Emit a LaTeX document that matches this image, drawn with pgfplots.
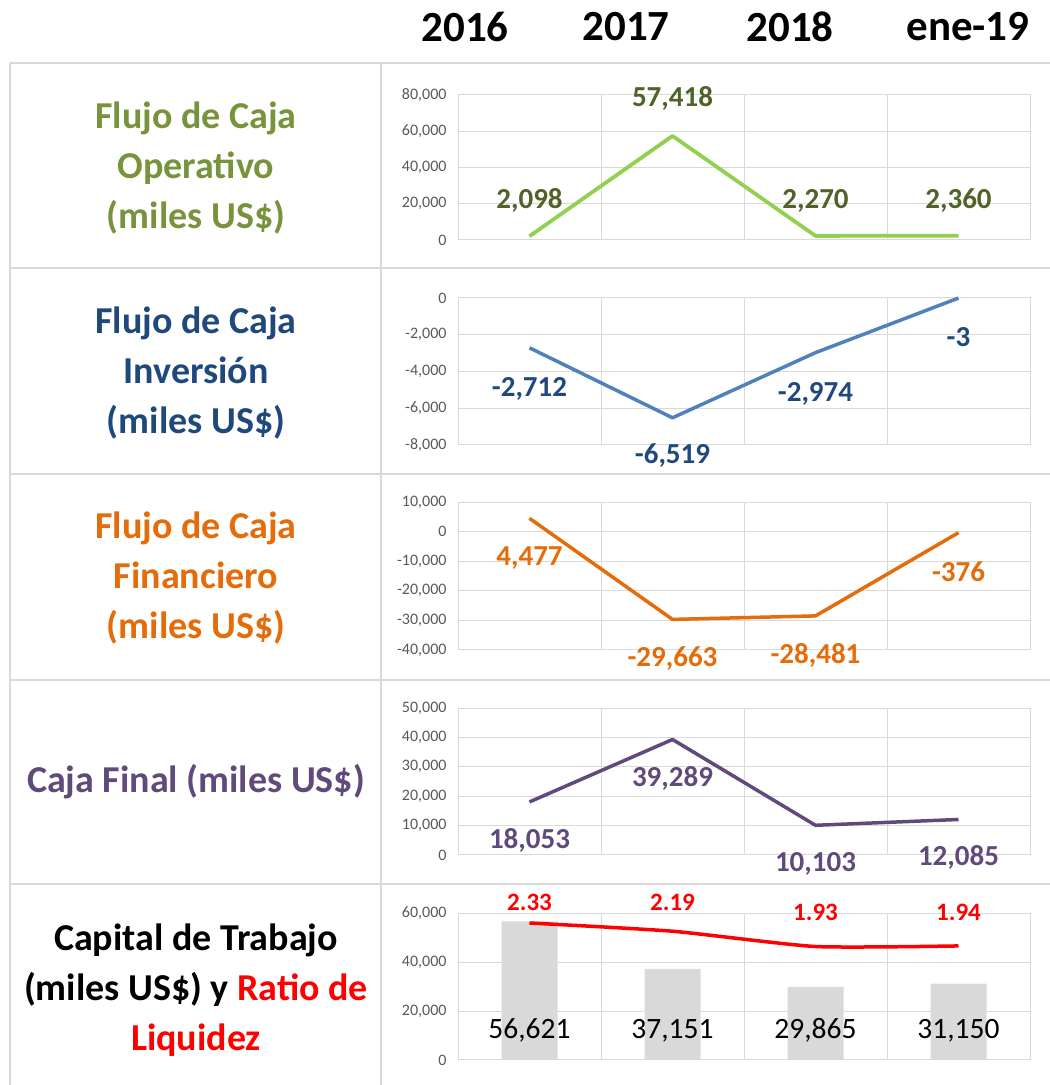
\documentclass[border=0pt]{standalone}
\usepackage{pgfplots}
\pgfplotsset{compat=1.18}
\usepackage{fontspec}
\setmainfont{Carlito}
\definecolor{gridc}{HTML}{D9D9D9}
\definecolor{tickc}{HTML}{595959}
\definecolor{gline}{HTML}{92D050}
\definecolor{glab}{HTML}{4F6228}
\definecolor{gtit}{HTML}{77933C}
\definecolor{bline}{HTML}{4F81BD}
\definecolor{blab}{HTML}{1F497D}
\definecolor{oline}{HTML}{E46C0A}
\definecolor{pline}{HTML}{604A7B}
\definecolor{barc}{HTML}{D9D9D9}
\newcommand\tf{\fontsize{38}{50}\selectfont\bfseries}
\pgfplotsset{
  cell/.style={
    scale only axis, width=572pt, anchor=south west,
    xmin=0.5, xmax=4.5, xtick={1.5,2.5,3.5}, xticklabels={},
    xmajorgrids, ymajorgrids,
    grid style={gridc, line width=1pt},
    axis line style={gridc, line width=1pt},
    major tick length=0pt,
    scaled y ticks=false,
    clip=false,
    yticklabel style={font=\fontsize{16}{16}\selectfont, text=tickc, xshift=-8pt},
    /pgf/number format/fixed,
    /pgf/number format/1000 sep={,},
    /pgf/number format/assume math mode=true,
  },
}
\tikzset{dl/.style={font=\fontsize{29}{29}\selectfont\bfseries, text height=0.65em, text depth=0.15em, yshift=-6pt},
  rl/.style={font=\fontsize{25}{25}\selectfont\bfseries, text=red, text height=0.65em, text depth=0.15em, yshift=-5pt},
  bl/.style={font=\fontsize{29.5}{29.5}\selectfont, text height=0.65em, text depth=0.15em, yshift=-6pt}}
\begin{document}
\begin{tikzpicture}[x=1pt,y=1pt]
\useasboundingbox (0pt,0pt) rectangle (1050pt,1085pt);
% table lines
\foreach \yy in {1022,817,611,405,201} {\draw[gridc, line width=2pt] (10pt,\yy pt) -- (1050pt,\yy pt);}
\draw[gridc, line width=2pt] (10pt,0pt) -- (10pt,1022pt);
\draw[gridc, line width=2pt] (381pt,0pt) -- (381pt,1022pt);
% headers
\node[font=\fontsize{43}{43}\selectfont\bfseries] at (465pt,1058pt) {2016};
\node[font=\fontsize{43}{43}\selectfont\bfseries] at (626pt,1058pt) {2017};
\node[font=\fontsize{43}{43}\selectfont\bfseries] at (790pt,1058pt) {2018};
\node[font=\fontsize{43}{43}\selectfont\bfseries] at (968pt,1058pt) {ene-19};
% titles
\node[align=center, text=gtit, font=\tf] at (196pt,917pt) {Flujo de Caja\\Operativo\\(miles US\$)};
\node[align=center, text=blab, font=\tf] at (196pt,712pt) {Flujo de Caja\\Inversión\\(miles US\$)};
\node[align=center, text=oline, font=\tf] at (196pt,507pt) {Flujo de Caja\\Financiero\\(miles US\$)};
\node[align=center, text=pline, font=\tf] at (196pt,303pt) {Caja Final (miles US\$)};
\node[align=center, font=\tf] at (196pt,95pt) {Capital de Trabajo\\(miles US\$) y \textcolor{red}{Ratio de}\\\textcolor{red}{Liquidez}};

% Chart 1
\begin{axis}[cell, at={(458pt,845pt)}, height=145pt, ymin=0, ymax=80000, ytick={0,20000,40000,60000,80000}]
\addplot[gline, line width=3.8pt, line join=round] coordinates {(1,2098)(2,57418)(3,2270)(4,2360)};
\node[dl, text=glab] at (axis cs:1,22069) {2,098};
\node[dl, text=glab] at (axis cs:2,78345) {57,418};
\node[dl, text=glab] at (axis cs:3,22069) {2,270};
\node[dl, text=glab] at (axis cs:4,22069) {2,360};
\end{axis}

% Chart 2
\begin{axis}[cell, at={(458pt,640pt)}, height=147pt, ymin=-8000, ymax=0, ytick={-8000,-6000,-4000,-2000,0}]
\addplot[bline, line width=3.5pt, line join=round] coordinates {(1,-2712)(2,-6519)(3,-2974)(4,-3)};
\node[dl, text=blab] at (axis cs:1,-4898) {-2,712};
\node[dl, text=blab] at (axis cs:2,-8544) {-6,519};
\node[dl, text=blab] at (axis cs:3,-5170) {-2,974};
\node[dl, text=blab] at (axis cs:4,-2177) {-3};
\end{axis}

% Chart 3
\begin{axis}[cell, at={(458pt,435pt)}, height=148pt, ymin=-40000, ymax=10000, ytick={-40000,-30000,-20000,-10000,0,10000}]
\addplot[oline, line width=3.5pt, line join=round] coordinates {(1,4477)(2,-29663)(3,-28481)(4,-376)};
\node[dl, text=oline] at (axis cs:1,-8581) {4,477};
\node[dl, text=oline] at (axis cs:2,-42703) {-29,663};
\node[dl, text=oline] at (axis cs:3,-41689) {-28,481};
\node[dl, text=oline] at (axis cs:4,-13986) {-376};
\end{axis}

% Chart 4
\begin{axis}[cell, at={(458pt,230pt)}, height=147pt, ymin=0, ymax=50000, ytick={0,10000,20000,30000,40000,50000}]
\addplot[pline, line width=3.5pt, line join=round] coordinates {(1,18053)(2,39289)(3,10103)(4,12085)};
\node[dl, text=pline] at (axis cs:1,5102) {18,053};
\node[dl, text=pline] at (axis cs:2,26190) {39,289};
\node[dl, text=pline] at (axis cs:3,-2721) {10,103};
\node[dl, text=pline] at (axis cs:4,-680) {12,085};
\end{axis}

% Chart 5
\begin{axis}[cell, at={(458pt,25pt)}, height=147pt, ymin=0, ymax=60000, ytick={0,20000,40000,60000}]
\addplot[ybar, bar width=56pt, fill=barc, draw=none] coordinates {(1,56621)(2,37151)(3,29865)(4,31150)};
\node[bl] at (axis cs:1,12245) {56,621};
\node[bl] at (axis cs:2,12245) {37,151};
\node[bl] at (axis cs:3,12245) {29,865};
\node[bl] at (axis cs:4,12245) {31,150};
\end{axis}
\begin{axis}[cell, at={(458pt,25pt)}, height=147pt, hide axis, ymin=0, ymax=2.5]
\addplot[red, line width=3.5pt, smooth, tension=0.35] coordinates {(1,2.33)(2,2.19)(3,1.93)(4,1.94)};
\node[rl] at (axis cs:1,2.67) {2.33};
\node[rl] at (axis cs:2,2.67) {2.19};
\node[rl] at (axis cs:3,2.50) {1.93};
\node[rl] at (axis cs:4,2.50) {1.94};
\end{axis}
\end{tikzpicture}
\end{document}
